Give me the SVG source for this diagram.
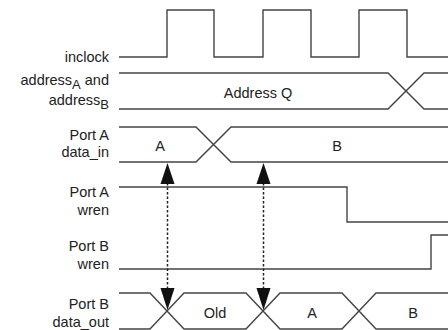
<svg xmlns="http://www.w3.org/2000/svg" width="448" height="330" viewBox="0 0 448 330">
<style>
.lbl{font-family:"Liberation Sans",Arial,sans-serif;font-size:14.5px;fill:#222;text-anchor:end}
.val{font-family:"Liberation Sans",Arial,sans-serif;font-size:14.5px;fill:#222;text-anchor:middle}
.sub{font-size:13px}
.sig{fill:none;stroke:#444;stroke-width:1.4;stroke-linejoin:miter}
.dot{fill:none;stroke:#222;stroke-width:1.5;stroke-dasharray:2.5,2}
.head{fill:#111}
</style>
<rect width="448" height="330" fill="#fff"/>
<g id="inclock">
<text class="lbl" x="109" y="62">inclock</text>
<path class="sig" d="M119,57 H167 V10 H214 V57 H263 V10 H311 V57 H359 V10 H407 V57 H448"/>
</g>
<g id="address">
<text class="lbl" x="109" y="85">address<tspan class="sub" dy="4">A</tspan><tspan dy="-4"> and</tspan></text>
<text class="lbl" x="109" y="105">address<tspan class="sub" dy="4">B</tspan></text>
<path class="sig" d="M119,73 H388 L424,109 H448 M119,109 H388 L424,73 H448"/>
<text class="val" x="258" y="98">Address Q</text>
</g>
<g id="porta_data_in">
<text class="lbl" x="109" y="140">Port A</text>
<text class="lbl" x="109" y="157">data_in</text>
<path class="sig" d="M119,127 H196 L231,162 H448 M119,162 H196 L231,127 H448"/>
<text class="val" x="160" y="151">A</text>
<text class="val" x="337" y="151">B</text>
</g>
<g id="porta_wren">
<text class="lbl" x="109" y="197">Port A</text>
<text class="lbl" x="109" y="215">wren</text>
<path class="sig" d="M119,187 H347 V222 H448"/>
</g>
<g id="portb_wren">
<text class="lbl" x="109" y="251">Port B</text>
<text class="lbl" x="109" y="269">wren</text>
<path class="sig" d="M119,269 H431 V235 H448"/>
</g>
<g id="portb_data_out">
<text class="lbl" x="109" y="309">Port B</text>
<text class="lbl" x="109" y="327">data_out</text>
<path class="sig" d="M119,293 H150 L184,329 H246 L280,293 H342 L376,329 H448 M119,329 H150 L184,293 H246 L280,329 H342 L376,293 H448"/>
<text class="val" x="215" y="318">Old</text>
<text class="val" x="312" y="318">A</text>
<text class="val" x="413" y="318">B</text>
</g>
<g id="connectors">
<path class="dot" d="M167.5,183 V289"/>
<path class="head" d="M167.5,163 L160.5,184 H174.5 Z"/>
<path class="head" d="M167.5,310 L160.5,288 H174.5 Z"/>
<path class="dot" d="M263.5,183 V289"/>
<path class="head" d="M263.5,163 L256.5,184 H270.5 Z"/>
<path class="head" d="M263.5,310 L256.5,288 H270.5 Z"/>
</g>
</svg>
